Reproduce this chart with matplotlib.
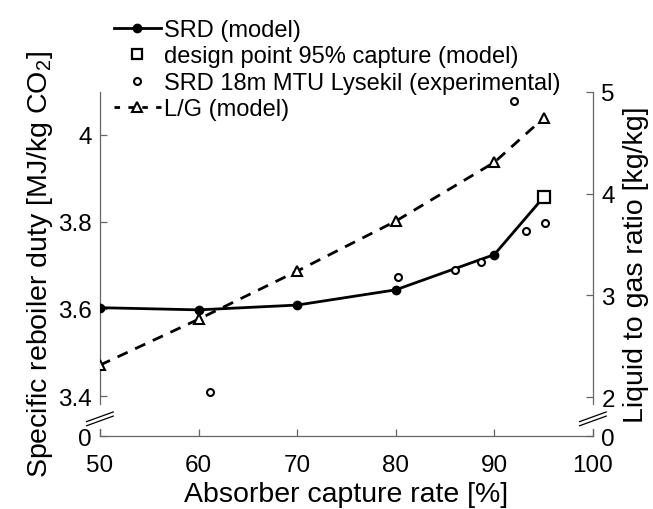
import numpy as np
import matplotlib.pyplot as plt
from matplotlib.lines import Line2D

plt.rcParams['font.family'] = ['Liberation Sans', 'DejaVu Sans']
plt.rcParams['mathtext.fontset'] = 'custom'
plt.rcParams['mathtext.rm'] = 'Liberation Sans'

# data
capture = [50, 60, 70, 80, 90, 95]
srd_model = [3.603, 3.598, 3.609, 3.644, 3.725, 3.857]
design_x = [95]
design_srd = [3.857]
exp_capture = [61.2, 80.2, 86.0, 88.6, 92.0, 93.2, 95.1]
exp_srd = [3.409, 3.674, 3.689, 3.707, 4.077, 3.779, 3.798]
lg_model = [2.314, 2.765, 3.238, 3.729, 4.307, 4.742]

x_ticks = [50, 60, 70, 80, 90, 100]
left_ticks = [3.4, 3.6, 3.8, 4.0]
left_labels = ['3.4', '3.6', '3.8', '4']
right_ticks = [2, 3, 4, 5]
right_labels = ['2', '3', '4', '5']

left_lim = (3.308, 4.099)
right_lim = (1.617, 5.0)

spine_c = '0.4'
fs_tick = 17.5
fs_label = 20.5

fig = plt.figure(figsize=(6.53, 5.10), dpi=100)
ax = fig.add_axes([0.153, 0.143, 0.755, 0.675])
ax2 = ax.twinx()

ax.plot(capture, srd_model, '-', color='black', lw=2, marker='o', ms=6,
        markevery=list(range(len(capture) - 1)), zorder=3)
ax.plot(design_x, design_srd, 's', color='black', mfc='white', ms=9, mew=1.6, zorder=4)
ax.plot(exp_capture, exp_srd, 'o', color='black', mfc='white', ms=5, mew=1.5, zorder=4)
ax2.plot(capture, lg_model, '--', color='black', lw=2, marker='^', mfc='white',
         ms=7, mew=1.5, dashes=(4, 3))

ax.set_xlim(50, 100)
ax.set_ylim(*left_lim)
ax2.set_ylim(*right_lim)
ax.set_xticks(x_ticks)
ax.set_yticks([left_lim[0]] + left_ticks)
ax.set_yticklabels(['0'] + left_labels)
ax2.set_yticks([right_lim[0]] + right_ticks)
ax2.set_yticklabels(['0'] + right_labels)

for a in (ax, ax2):
    a.spines['top'].set_visible(False)
    for s in a.spines.values():
        s.set_color(spine_c)
        s.set_linewidth(0.9)
    a.tick_params(direction='in', length=5, width=0.9, color=spine_c,
                  labelsize=fs_tick, labelcolor='black', pad=6)
ax.tick_params(axis='x', pad=13)
ax.spines['right'].set_visible(False)
ax2.spines['left'].set_visible(False)
ax2.spines['bottom'].set_visible(False)

# broken y axes: gap in the spines plus a "//" mark
gap_lo, gap_hi = 0.021, 0.092
ax.spines['left'].set_bounds(left_lim[0] + gap_hi * (left_lim[1] - left_lim[0]), left_lim[1])
ax2.spines['right'].set_bounds(right_lim[0] + gap_hi * (right_lim[1] - right_lim[0]), right_lim[1])
for xa in (0.0, 1.0):
    ax.plot([xa, xa], [0, gap_lo], color=spine_c, lw=0.9, transform=ax.transAxes,
            clip_on=False)
    for off in (-0.006, 0.006):
        ax.plot([xa - 0.027, xa + 0.027], [0.036 + off, 0.064 + off], color='black',
                lw=0.9, transform=ax.transAxes, clip_on=False)

ax.set_xlabel('Absorber capture rate [%]', fontsize=fs_label, labelpad=3.5)
ax.set_ylabel('Specific reboiler duty [MJ/kg CO$_2$]', fontsize=fs_label, labelpad=2)
ax2.set_ylabel('Liquid to gas ratio [kg/kg]', fontsize=fs_label, labelpad=6)

handles = [
    Line2D([], [], color='black', lw=2, marker='o', ms=6),
    Line2D([], [], ls='none', color='black', marker='s', mfc='white', ms=7, mew=1.6),
    Line2D([], [], ls='none', color='black', marker='o', mfc='white', ms=5, mew=1.5),
    Line2D([], [], color='black', lw=2, ls='--', dashes=(2, 3), marker='^', mfc='white',
           ms=7, mew=1.5),
]
labels = ['SRD (model)', 'design point 95% capture (model)',
          'SRD 18m MTU Lysekil (experimental)', 'L/G (model)']
fig.legend(handles, labels, loc='upper left', bbox_to_anchor=(0.174, 0.961),
           frameon=False, fontsize=17, handlelength=2.0, handletextpad=0.15,
           labelspacing=0.19, borderpad=0, borderaxespad=0)

fig.savefig('out.png', dpi=100)
